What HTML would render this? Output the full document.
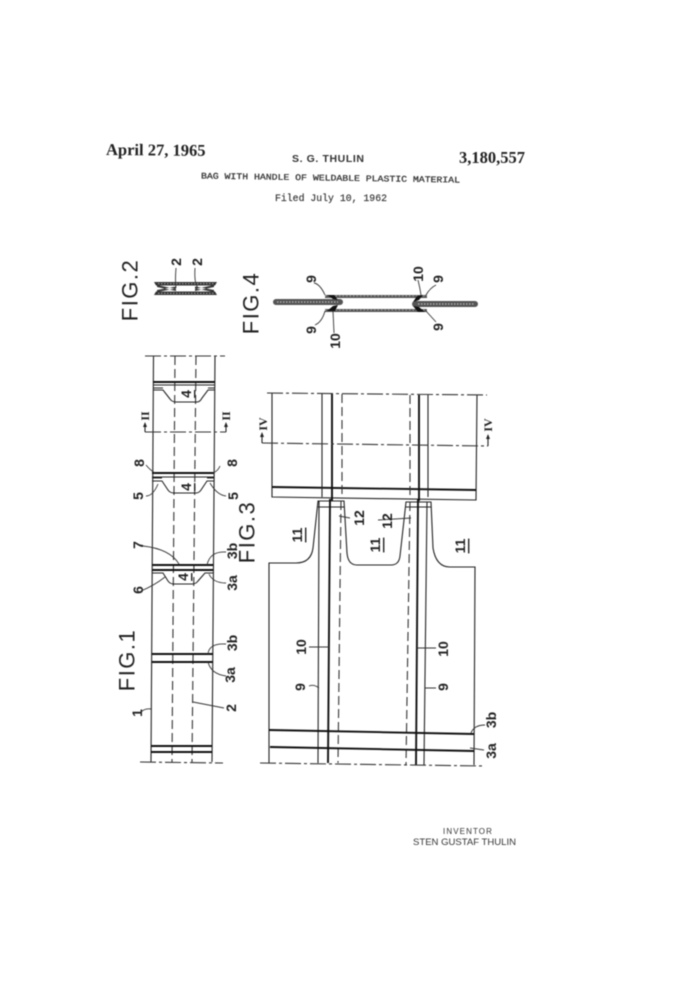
<!DOCTYPE html>
<html><head><meta charset="utf-8"><title>Patent drawing</title>
<style>
html,body{margin:0;padding:0;background:#fff;width:681px;height:1000px;overflow:hidden}
svg{display:block;filter:blur(.5px)}
.l{fill:none;stroke:#222;stroke-width:1.1}
.t{fill:none;stroke:#111;stroke-width:1.9}
.d{fill:none;stroke:#333;stroke-width:1.1;stroke-dasharray:9 4}
.c{fill:none;stroke:#333;stroke-width:1.1;stroke-dasharray:16 3 3 3}
.f{fill:none;stroke:#333;stroke-width:.9}
.n{font-family:"Liberation Sans",sans-serif;font-size:14px;font-weight:bold;fill:#222;text-anchor:middle;dominant-baseline:central}
.g{font-family:"Liberation Sans",sans-serif;font-size:22px;fill:#222;text-anchor:middle;dominant-baseline:central;letter-spacing:1.500px}
.r{font-family:"Liberation Serif",serif;font-size:12px;font-weight:bold;fill:#222;text-anchor:middle;dominant-baseline:central}
.m{font-family:"Liberation Mono",monospace;fill:#333}
</style></head><body>
<svg width="681" height="1000" viewBox="0 0 681 1000" xmlns="http://www.w3.org/2000/svg">
<!-- Header -->
<text x="106" y="155" font-family="Liberation Serif,serif" font-weight="bold" font-size="16.5" fill="#222" transform="rotate(.5 106 155)">April 27, 1965</text>
<text x="292" y="162" font-family="Liberation Sans,sans-serif" font-weight="bold" font-size="10.5" letter-spacing=".6" fill="#333">S. G. THULIN</text>
<text x="459" y="163" font-family="Liberation Serif,serif" font-weight="bold" font-size="16.5" fill="#222">3,180,557</text>
<text x="201" y="178.500" class="m" font-size="8.6" stroke="#333" stroke-width=".25" textLength="259" lengthAdjust="spacingAndGlyphs" transform="rotate(.9 201 178.500)">BAG WITH HANDLE OF WELDABLE PLASTIC MATERIAL</text>
<text x="275" y="201" class="m" font-size="10" stroke="#333" stroke-width=".15" textLength="112" lengthAdjust="spacingAndGlyphs">Filed July 10, 1962</text>
<text x="443" y="834" font-family="Liberation Sans,sans-serif" font-size="8" letter-spacing="1.1" fill="#333">INVENTOR</text>
<text x="413" y="845" font-family="Liberation Sans,sans-serif" font-size="9" fill="#333" textLength="103" lengthAdjust="spacingAndGlyphs">STEN GUSTAF THULIN</text>

<!-- FIG 1 -->
<path class="l" d="M153.500 356L151 762M215 356L212 762"/>
<path class="d" d="M175 356L172 762M196 356L192 762"/>
<path class="c" d="M145 356H225M140 762L223 763M145 432L226 432"/>
<path class="l" d="M145 432V426M226 432V426"/>
<path d="M145 422l-2 5h4zM226 422l-2 5h4z" fill="#222"/>
<!-- weld groups -->
<path class="t" d="M153 382H215"/><path class="l" d="M153 385H215"/>
<path class="l" d="M153 390H163L170 399Q172 402 176 402H197Q200 402 202 398L208 390H215"/>
<path class="l" d="M153 388H163M208 388H215"/>
<path class="t" d="M152 473H214"/><path class="l" d="M152 477H214"/>
<path class="l" d="M152 481H162L168 490Q170 493 174 493H196Q199 493 201 490L207 481H214M152 478H162M207 478H214"/>
<path class="t" d="M152 565H213"/><path class="t" d="M152 570H213" stroke-width="1.4"/>
<path class="l" d="M152 573H163L168 581Q170 584 174 584H192Q196 584 198 581L205 573H213"/>
<path class="t" d="M152 654H213M152 662H213"/>
<path class="t" d="M151 746H212M151 752H212"/>
<!-- leaders -->
<path class="f" d="M146 465Q150 470 155 473M220 466Q218 471 213 473M146 496Q153 496 158 484M226 496Q217 495 210 483M141 591Q155 585 165 577M143 546Q170 549 179 564M226 552Q210 551 207 565M226 583Q213 583 209 574M226 644Q209 643 208 654M226 676Q211 674 208 662M141 712Q145 708 151 709M224 708L193 702"/>

<!-- FIG 2 -->
<path d="M154 282H217L215 285.500H156ZM154 295H217L215 291.500H156Z" fill="#333"/>
<path d="M157 287L176 291L176 289L157 285ZM157 290L176 286.500L176 288.500L157 292ZM214 287L195 291L195 289L214 285ZM214 290L195 286.500L195 288.500L214 292Z" fill="#333"/>
<path d="M158 283.700H214M158 293.300H214" stroke="#bbb" stroke-width=".8" stroke-dasharray="1.500 1.500"/>
<path class="f" d="M176 268Q175 280 176 288M195 268Q194 283 198 288"/>

<!-- FIG 4 -->
<rect x="273" y="299" width="70" height="6" rx="3" fill="#555"/>
<rect x="412" y="301" width="66" height="6" rx="3" fill="#555"/>
<path d="M277 302H338M418 304H475" stroke="#bbb" stroke-width="1.200" stroke-dasharray="1.500 1.500"/>
<path d="M325 295H427V298H325ZM325 309H427V312H325Z" fill="#555"/>
<path d="M325 296H427M325 310H427" stroke="#bbb" stroke-width=".8" stroke-dasharray="1.500 2"/>
<path d="M327 295L334 295L338 300L333 299ZM327 311L335 311L338 305L333 306ZM423 295L417 296L413 302L419 300ZM425 312L418 312L413 306L419 307Z" fill="#111"/>
<path class="f" d="M314 283Q320 284 325 295M315 325Q322 322 325 311M334 333L333 311M418 280Q420 288 421 295M436 285Q430 288 426 295M436 322L426 311"/>

<!-- FIG 3 upper -->
<path class="l" d="M272 393V497L476 500L477 395"/>
<path class="t" d="M272 487L476 490"/>
<path class="l" d="M322 394V497M428 395V497"/>
<path class="t" d="M332 394V501M419 395V501"/>
<path class="d" d="M342 394V497M410 395V497"/>
<path class="c" d="M267 393L487 395M262 443L488 446"/>
<path class="l" d="M262 443V436M488 446V438"/>
<path d="M262 432l-2 5h4zM488 434l-2 5h4z" fill="#222"/>

<!-- FIG 3 lower -->
<path class="l" d="M269 763V563H296Q311 563 313 548L318 501H344L347 553Q348 565 357 565H391Q399 565 400 556L406 502H431L433 548Q436 567 450 567H475L474 765"/>
<path class="l" d="M318 507H344M406 507H431"/>
<path class="l" d="M319 501L318 763M427 502L424 765"/>
<path class="t" d="M330 499L328 763M418 499L416 765"/>
<path class="d" d="M341 501L338 763M410 502L406 765"/>
<path class="t" d="M269 730L474 734M270 747L474 751" stroke-width="1.600"/>
<path class="c" d="M260 763L485 766"/>
<!-- leaders -->
<path class="f" d="M350 518L339 516M378 520L411 518M309 647L329 647M436 648L417 648M309 686Q314 684 319 688M436 688L425 688M485 725Q474 725 471 733M484 750L470 748"/>

<!-- Rotated labels -->
<text class="g" transform="translate(130 290) rotate(-90)">FIG.2</text>
<text class="g" transform="translate(127 660) rotate(-90)">FIG.1</text>
<text class="g" transform="translate(251 303) rotate(-90)">FIG.4</text>
<text class="g" transform="translate(247 532) rotate(-90)">FIG.3</text>

<text class="n" transform="translate(176 262) rotate(-90)">2</text>
<text class="n" transform="translate(197 262) rotate(-90)">2</text>
<text class="n" transform="translate(186 394) rotate(-90)" text-decoration="underline">4</text>
<text class="n" transform="translate(186 487) rotate(-90)" text-decoration="underline">4</text>
<text class="n" transform="translate(183 577) rotate(-90)" text-decoration="underline">4</text>
<text class="r" transform="translate(145 416) rotate(-90)">II</text>
<text class="r" transform="translate(226 416) rotate(-90)">II</text>
<text class="n" transform="translate(139 463) rotate(-90)">8</text>
<text class="n" transform="translate(232 463) rotate(-90)">8</text>
<text class="n" transform="translate(138 496) rotate(-90)">5</text>
<text class="n" transform="translate(233 496) rotate(-90)">5</text>
<text class="n" transform="translate(138 545) rotate(-90)">7</text>
<text class="n" transform="translate(138 590) rotate(-90)">6</text>
<text class="n" transform="translate(232 551) rotate(-90)">3b</text>
<text class="n" transform="translate(232 583) rotate(-90)">3a</text>
<text class="n" transform="translate(232 643) rotate(-90)">3b</text>
<text class="n" transform="translate(230 675) rotate(-90)">3a</text>
<text class="n" transform="translate(137 713) rotate(-90)">1</text>
<text class="n" transform="translate(231 708) rotate(-90)">2</text>

<text class="n" transform="translate(311 279) rotate(-90)">9</text>
<text class="n" transform="translate(311 330) rotate(-90)">9</text>
<text class="n" transform="translate(335 341) rotate(-90)">10</text>
<text class="n" transform="translate(418 274) rotate(-90)">10</text>
<text class="n" transform="translate(438 279) rotate(-90)">9</text>
<text class="n" transform="translate(438 327) rotate(-90)">9</text>

<text class="r" transform="translate(263 424) rotate(-90)">IV</text>
<text class="r" transform="translate(488 425) rotate(-90)">IV</text>
<text class="n" transform="translate(297 535) rotate(-90)" text-decoration="underline">11</text>
<text class="n" transform="translate(375 545) rotate(-90)" text-decoration="underline">11</text>
<text class="n" transform="translate(460 546) rotate(-90)" text-decoration="underline">11</text>
<text class="n" transform="translate(359 518) rotate(-90)">12</text>
<text class="n" transform="translate(387 521) rotate(-90)">12</text>
<text class="n" transform="translate(301 647) rotate(-90)">10</text>
<text class="n" transform="translate(443 649) rotate(-90)">10</text>
<text class="n" transform="translate(300 687) rotate(-90)">9</text>
<text class="n" transform="translate(443 687) rotate(-90)">9</text>
<text class="n" transform="translate(491 720) rotate(-90)">3b</text>
<text class="n" transform="translate(491 751) rotate(-90)">3a</text>
</svg>
</body></html>
